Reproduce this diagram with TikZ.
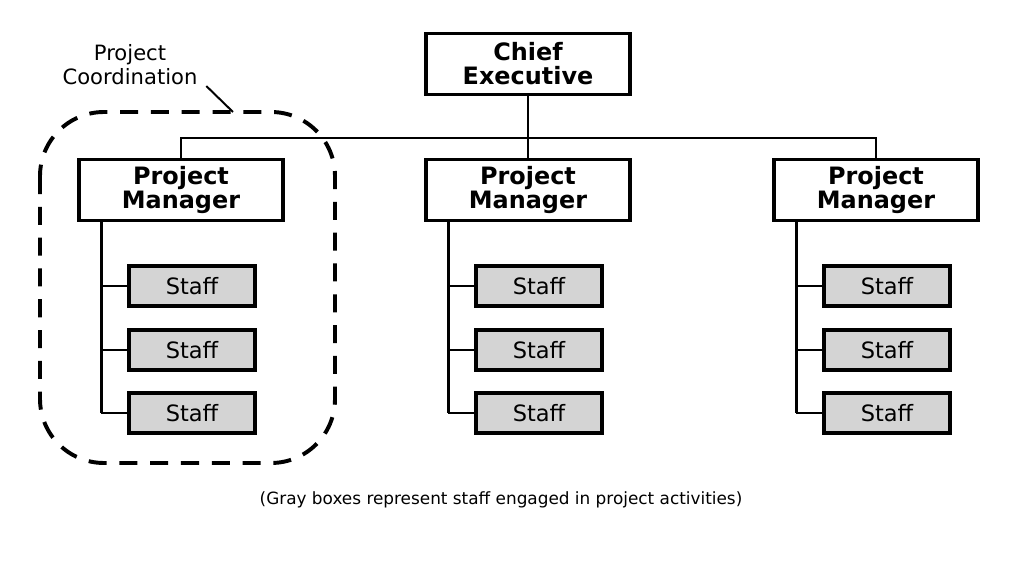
\documentclass[tikz,border=0pt]{standalone}
\usepackage{fontspec}
\setmainfont{DejaVu Sans}
\usetikzlibrary{positioning}
\definecolor{staffgray}{HTML}{D4D4D4}

\begin{document}
\begin{tikzpicture}[x=0.025cm, y=-0.025cm,
  head/.style={draw, line width=2.4pt, minimum width=5.1cm, minimum height=1.52cm, inner sep=0pt, align=center, font=\fontsize{17}{17}\selectfont\bfseries},
  staff/.style={draw, line width=2.4pt, fill=staffgray, minimum width=3.15cm, minimum height=1.0cm, inner sep=0pt, font=\fontsize{16}{17}\selectfont},
  link/.style={line width=2pt},
  group/.style={line width=2.8pt, dash pattern=on 0.45cm off 0.32cm, rounded corners=1.6cm}]
  \useasboundingbox (0,0) rectangle (1024,576);

  \node[head] (chief) at (528,64) {Chief\\Executive};

  \foreach \i/\x in {1/181, 2/528, 3/876} {
    \node[head] (pm\i) at (\x,190) {Project\\Manager};
    \coordinate (sp\i) at ([xshift=0.6cm]pm\i.south west);
    \foreach \j/\y in {1/286, 2/350, 3/413} {
      \node[staff] (s\i\j) at (\x+11,\y) {Staff};
      \draw[link] (s\i\j.west -| sp\i) -- (s\i\j.west);
    }
    \draw[link] (sp\i) -- (s\i3.west -| sp\i);
  }

  % reporting lines
  \coordinate (bus) at (528,138);
  \draw[link] (chief.south) -- (pm2.north);
  \draw[link] (pm1.north) -- (pm1.north |- bus) -- (pm3.north |- bus) -- (pm3.north);

  % coordination group
  \draw[group] (40,112) rectangle (335,463);
  \node[align=center, font=\fontsize{15}{17}\selectfont] (coord) at (130,65) {Project\\Coordination};
  \coordinate (tip) at (233,112);
  \draw[line width=1.4pt] ([shift={(4,-4)}]coord.south east) -- (tip);

  \node[font=\fontsize{12}{14}\selectfont] (note) at (501,500) {(Gray boxes represent staff engaged in project activities)};
\end{tikzpicture}
\end{document}
